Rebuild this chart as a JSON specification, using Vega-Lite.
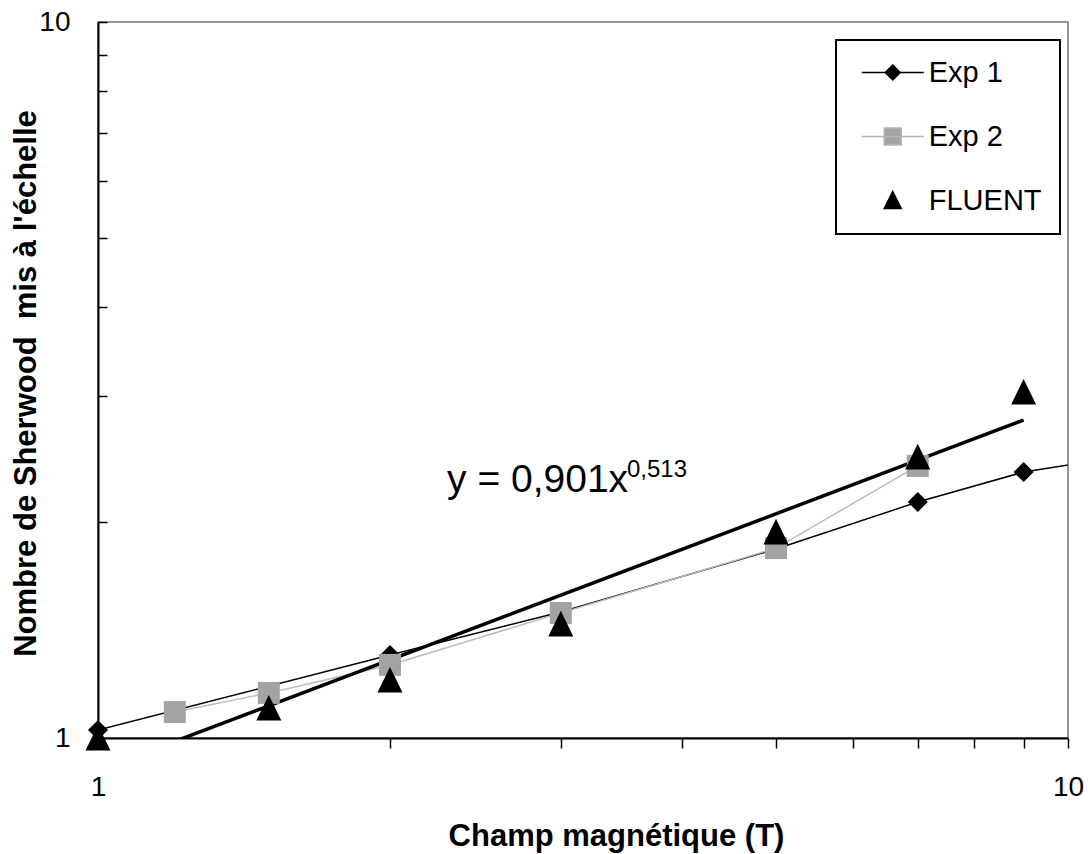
{
  "$schema": "https://vega.github.io/schema/vega-lite/v6.json",
  "width": 970,
  "height": 716,
  "autosize": {"type": "none"},
  "padding": {"left": 98, "top": 22, "right": 22, "bottom": 116},
  "background": "white",
  "config": {
    "view": {"stroke": "#707070", "strokeWidth": 1.5},
    "font": "Liberation Sans",
    "legend": {
      "orient": "none",
      "legendX": 738,
      "legendY": 18,
      "padding": 18,
      "strokeColor": "black",
      "strokeWidth": 2,
      "fillColor": "white",
      "symbolSize": 400,
      "symbolOffset": 24.25,
      "labelOffset": 21.5,
      "rowPadding": 34,
      "labelFontSize": 29,
      "labelFont": "Liberation Sans",
      "labelColor": "black",
      "labelBaseline": "middle",
      "symbolStrokeWidth": 1.5,
      "symbolOpacity": 1
    }
  },
  "data": {
    "values": [
      {"series": "Exp 1", "x": 1, "y": 1.026},
      {"series": "Exp 1", "x": 2, "y": 1.306},
      {"series": "Exp 1", "x": 3, "y": 1.5},
      {"series": "Exp 1", "x": 5, "y": 1.836},
      {"series": "Exp 1", "x": 7, "y": 2.136},
      {"series": "Exp 1", "x": 9, "y": 2.352},
      {"series": "Exp 1", "x": 12, "y": 2.5},
      {"series": "Exp 2", "x": 1.2, "y": 1.087},
      {"series": "Exp 2", "x": 1.5, "y": 1.156},
      {"series": "Exp 2", "x": 2, "y": 1.265},
      {"series": "Exp 2", "x": 3, "y": 1.495},
      {"series": "Exp 2", "x": 5, "y": 1.842},
      {"series": "Exp 2", "x": 7, "y": 2.399},
      {"series": "FLUENT", "x": 1, "y": 1.0},
      {"series": "FLUENT", "x": 1.5, "y": 1.101},
      {"series": "FLUENT", "x": 2, "y": 1.205},
      {"series": "FLUENT", "x": 3, "y": 1.443},
      {"series": "FLUENT", "x": 5, "y": 1.94},
      {"series": "FLUENT", "x": 7, "y": 2.469},
      {"series": "FLUENT", "x": 9, "y": 3.042},
      {"series": "Tendance", "x": 1, "y": 0.901},
      {"series": "Tendance", "x": 9, "y": 2.78}
    ]
  },
  "encoding": {
    "x": {
      "field": "x",
      "type": "quantitative",
      "scale": {"type": "log", "domain": [1, 10], "nice": false},
      "axis": {
        "title": "Champ magnétique (T)",
        "values": [1, 2, 3, 4, 5, 6, 7, 8, 9, 10],
        "labelExpr": "datum.value == 1 ? '1' : datum.value == 10 ? '10' : ''",
        "grid": false,
        "domainColor": "black",
        "domainWidth": 2,
        "tickColor": "black",
        "tickWidth": 1.5,
        "tickSize": 10,
        "labelPadding": 25,
        "labelFontSize": 28,
        "labelFont": "Liberation Sans",
        "labelColor": "black",
        "labelFlush": false,
        "labelOverlap": false,
        "labelBaseline": "top",
        "titleFont": "Liberation Sans",
        "titleFontSize": 31,
        "titleFontWeight": "bold",
        "titleColor": "black",
        "titleX": 518,
        "titleY": 107,
        "titleAlign": "center",
        "titleBaseline": "alphabetic"
      }
    },
    "y": {
      "field": "y",
      "type": "quantitative",
      "scale": {"type": "log", "domain": [1, 10], "nice": false},
      "axis": {
        "title": "Nombre de Sherwood\u00a0 mis à l'échelle",
        "values": [1, 2, 3, 4, 5, 6, 7, 8, 9, 10],
        "labelExpr": "datum.value == 1 ? '1' : datum.value == 10 ? '10' : ''",
        "grid": false,
        "domainColor": "black",
        "domainWidth": 2,
        "tickColor": "black",
        "tickWidth": 1.5,
        "tickSize": -9,
        "labelPadding": 37,
        "labelFontSize": 28,
        "labelFont": "Liberation Sans",
        "labelColor": "black",
        "labelFlush": false,
        "labelOverlap": false,
        "labelBaseline": "middle",
        "titleFont": "Liberation Sans",
        "titleFontSize": 31,
        "titleFontWeight": "bold",
        "titleColor": "black",
        "titleX": -63,
        "titleY": 361,
        "titleAngle": 270,
        "titleAlign": "center",
        "titleBaseline": "alphabetic"
      }
    }
  },
  "layer": [
    {
      "transform": [{"filter": "datum.series === 'Exp 1'"}],
      "mark": {"type": "line", "color": "black", "strokeWidth": 1.5, "clip": true},
      "encoding": {}
    },
    {
      "transform": [{"filter": "datum.series === 'Exp 2'"}],
      "mark": {"type": "line", "color": "#bdbdbd", "strokeWidth": 1.5, "clip": true},
      "encoding": {}
    },
    {
      "transform": [{"filter": "datum.series === 'Tendance'"}],
      "mark": {"type": "line", "color": "black", "strokeWidth": 3.5, "clip": true},
      "encoding": {}
    },
    {
      "transform": [{"filter": "datum.series !== 'Tendance' && datum.x <= 10"}],
      "mark": {"type": "point", "filled": true, "opacity": 1, "size": 625, "strokeWidth": 0},
      "encoding": {
        "shape": {
          "field": "series",
          "type": "nominal",
          "scale": {
            "domain": ["Exp 1", "Exp 2", "FLUENT"],
            "range": [
              "M0,-0.8L0.8,0L0,0.8L-0.8,0Z",
              "M-0.88,-0.88H0.88V0.88H-0.88Z",
              "M0,-1.05L1,1L-1,1Z"
            ]
          },
          "legend": null
        },
        "fill": {
          "field": "series",
          "type": "nominal",
          "scale": {"domain": ["Exp 1", "Exp 2", "FLUENT"], "range": ["black", "#a3a3a3", "black"]},
          "legend": null
        }
      }
    },
    {
      "transform": [{"filter": "datum.series !== 'Tendance' && datum.x <= 10"}],
      "mark": {"type": "point", "filled": true, "opacity": 0, "size": 10},
      "encoding": {
        "shape": {
          "field": "series",
          "type": "nominal",
          "scale": {
            "domain": ["Exp 1", "Exp 2", "FLUENT"],
            "range": [
              "M-3.1,0H3.1M0,-0.75L0.75,0L0,0.75L-0.75,0Z",
              "M-3.1,0H3.1M-0.85,-0.85H0.85V0.85H-0.85Z",
              "M0,-0.9L0.85,0.8L-0.85,0.8Z"
            ]
          },
          "legend": {"title": null}
        },
        "fill": {
          "field": "series",
          "type": "nominal",
          "scale": {"domain": ["Exp 1", "Exp 2", "FLUENT"], "range": ["black", "#a3a3a3", "black"]},
          "legend": {"title": null}
        },
        "stroke": {
          "field": "series",
          "type": "nominal",
          "scale": {"domain": ["Exp 1", "Exp 2", "FLUENT"], "range": ["black", "#b5b5b5", "black"]},
          "legend": {"title": null}
        }
      }
    },
    {
      "data": {"values": [{"x": 2.29, "y": 2.206, "label": "y = 0,901x"}]},
      "mark": {"type": "text", "align": "left", "baseline": "alphabetic", "fontSize": 39, "font": "Liberation Sans", "color": "black"},
      "encoding": {"text": {"field": "label"}}
    },
    {
      "data": {"values": [{"x": 3.51, "y": 2.314, "label": "0,513"}]},
      "mark": {"type": "text", "align": "left", "baseline": "alphabetic", "fontSize": 24, "font": "Liberation Sans", "color": "black"},
      "encoding": {"text": {"field": "label"}}
    }
  ],
  "resolve": {"scale": {"shape": "independent", "fill": "independent", "stroke": "independent"}}
}
